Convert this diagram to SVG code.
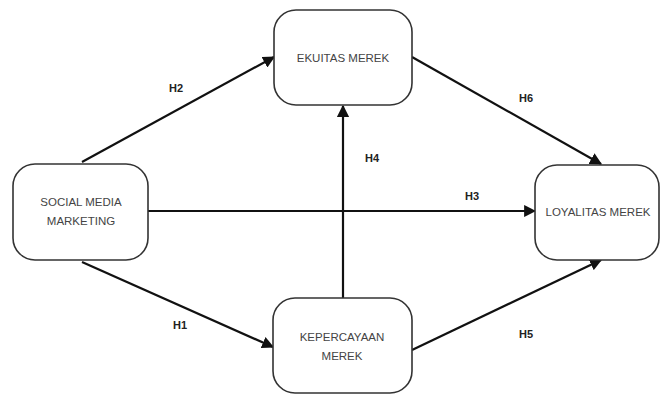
<svg xmlns="http://www.w3.org/2000/svg" width="662" height="396" viewBox="0 0 662 396">
<style>
.box{fill:#fff;stroke:#333;stroke-width:1.6}
.t{font-family:"Liberation Sans",Arial,sans-serif;font-size:11.5px;fill:#444;text-anchor:middle}
.lbl{font-family:"Liberation Sans",Arial,sans-serif;font-size:11px;fill:#222;font-weight:bold;text-anchor:middle}
.c{stroke:#111;stroke-width:2.2;fill:none;marker-end:url(#ah)}
</style>
<defs>
<marker id="ah" viewBox="0 0 10 10" refX="9" refY="5" markerWidth="5.5" markerHeight="5.5" orient="auto" markerUnits="strokeWidth">
<path d="M0,0 L10,5 L0,10 z" fill="#111"/>
</marker>
</defs>
<rect width="662" height="396" fill="#fff"/>
<g id="connectors">
<line class="c" x1="82" y1="162" x2="274" y2="57"/>
<line class="c" x1="82" y1="262" x2="273" y2="347"/>
<line class="c" x1="148" y1="211" x2="535" y2="211"/>
<line class="c" x1="343" y1="298" x2="343" y2="106"/>
<line class="c" x1="412" y1="57" x2="601" y2="164"/>
<line class="c" x1="412" y1="350" x2="601" y2="260"/>
<text class="lbl" x="176" y="92">H2</text>
<text class="lbl" x="180" y="329">H1</text>
<text class="lbl" x="472" y="200">H3</text>
<text class="lbl" x="372" y="162">H4</text>
<text class="lbl" x="526" y="102">H6</text>
<text class="lbl" x="526" y="338">H5</text>
</g>
<g id="smm">
<rect class="box" x="13" y="164" width="135" height="96" rx="22"/>
<text class="t" x="81" y="206">SOCIAL MEDIA</text>
<text class="t" x="81" y="225">MARKETING</text>
</g>
<g id="ekuitas">
<rect class="box" x="274" y="10" width="138" height="95" rx="22"/>
<text class="t" x="343" y="62">EKUITAS MEREK</text>
</g>
<g id="loyalitas">
<rect class="box" x="535" y="165" width="124" height="95" rx="22"/>
<text class="t" x="598" y="216">LOYALITAS MEREK</text>
</g>
<g id="kepercayaan">
<rect class="box" x="273" y="298" width="139" height="95" rx="22"/>
<text class="t" x="342" y="341">KEPERCAYAAN</text>
<text class="t" x="342" y="360">MEREK</text>
</g>
</svg>
